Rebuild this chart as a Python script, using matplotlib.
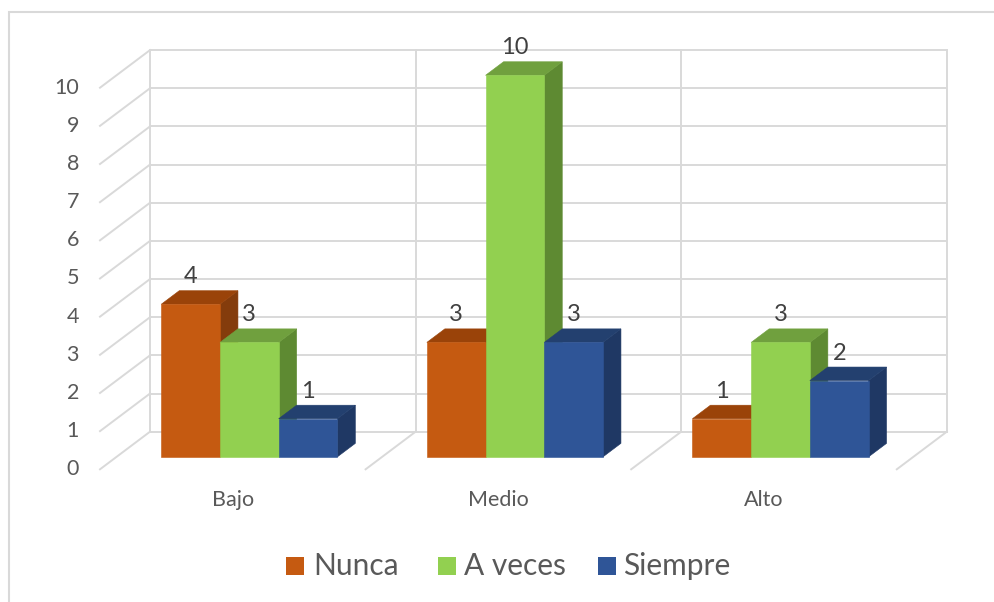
import matplotlib
matplotlib.use("Agg")
import matplotlib.pyplot as plt
from matplotlib.patches import Polygon, Rectangle

# ---- data ----
categories = ["Bajo", "Medio", "Alto"]
series_names = ["Nunca", "A veces", "Siempre"]
nunca = [4, 3, 1]
a_veces = [3, 10, 3]
siempre = [1, 3, 2]
y_ticks = list(range(0, 11))

series_values = [nunca, a_veces, siempre]
front_colors = ["#C55A11", "#92D050", "#2F5597"]
top_colors = ["#9A4309", "#70A03E", "#23406F"]
side_colors = ["#843C0C", "#5E8A32", "#1F3864"]

plt.rcParams['font.family'] = ['Lato', 'DejaVu Sans']

W, H = 994, 602
fig = plt.figure(figsize=(W / 100, H / 100), dpi=100)
ax = fig.add_axes([0, 0, 1, 1])
ax.set_axis_off()

# pixel geometry of the pseudo-3D frame
PX0, CAT_W = 100.0, 265.6      # front floor left x, px per category
Y0, UNIT = 469.3, 38.16        # front y of value 0, px per value unit
DEPTH_X, DEPTH_Y = 50.0, 37.6  # full depth offset in px

ax.set_xlim(-PX0 / CAT_W, (W - PX0) / CAT_W)
ax.set_ylim((Y0 - H) / UNIT, Y0 / UNIT)

DXc = DEPTH_X / CAT_W
DYv = DEPTH_Y / UNIT
ncat = len(categories)
vmax = max(y_ticks)
grid_c = "#D9D9D9"
glw = 1.4

# back wall horizontal gridlines
for v in y_ticks:
    ax.plot([DXc, ncat + DXc], [v + DYv, v + DYv], color=grid_c, lw=glw, zorder=1,
            solid_capstyle='butt')
    # left side wall diagonals
    ax.plot([0, DXc], [v, v + DYv], color=grid_c, lw=glw, zorder=1)
# back wall verticals
for k in range(ncat + 1):
    ax.plot([k + DXc, k + DXc], [DYv, vmax + DYv], color=grid_c, lw=glw, zorder=1)
# floor diagonals
for k in range(1, ncat + 1):
    ax.plot([k, k + DXc], [0, DYv], color=grid_c, lw=glw, zorder=1)

# bars
bw = 58.7 / CAT_W
d0, d1 = 0.33, 0.69
ddx, ddy = (d1 - d0) * DXc, (d1 - d0) * DYv
z = 3
for i in range(ncat):
    for j, vals in enumerate(series_values):
        v = vals[i]
        xl = i + 0.5 + (j - 1.5) * bw + d0 * DXc
        yb = d0 * DYv
        front = Polygon([(xl, yb), (xl + bw, yb), (xl + bw, yb + v), (xl, yb + v)],
                        closed=True, facecolor=front_colors[j], edgecolor=front_colors[j],
                        lw=0.4, zorder=z)
        top = Polygon([(xl, yb + v), (xl + bw, yb + v), (xl + bw + ddx, yb + v + ddy),
                       (xl + ddx, yb + v + ddy)], closed=True,
                      facecolor=top_colors[j], edgecolor=top_colors[j], lw=0.4, zorder=z)
        side = Polygon([(xl + bw, yb), (xl + bw + ddx, yb + ddy), (xl + bw + ddx, yb + v + ddy),
                        (xl + bw, yb + v)], closed=True,
                       facecolor=side_colors[j], edgecolor=side_colors[j], lw=0.4, zorder=z)
        ax.add_patch(side)
        ax.add_patch(top)
        ax.add_patch(front)
        z += 1
        ax.text(xl + bw / 2, v + d1 * DYv + 14 / UNIT, str(v), ha='center', va='center',
                fontsize=17, color="#404040", zorder=50)

# y tick labels
for v in y_ticks:
    ax.text(-21 / CAT_W, v, str(v), ha='right', va='center', fontsize=15.5,
            color="#595959", zorder=50)

# category labels
for i, c in enumerate(categories):
    ax.text(i + 0.5, (Y0 - 500) / UNIT, c, ha='center', va='center', fontsize=15.5,
            color="#595959", zorder=50)

# legend (manual, figure pixels)
leg_sq_x = [286, 437.5, 597.5]
leg_tx_x = [313, 463.5, 623.5]
leg_y = 566
for j, name in enumerate(series_names):
    fig.patches.append(Rectangle((leg_sq_x[j] / W, 1 - (leg_y + 9) / H), 18 / W, 18 / H,
                                 transform=fig.transFigure, facecolor=front_colors[j],
                                 edgecolor='none'))
    fig.text(leg_tx_x[j] / W, 1 - leg_y / H, name, ha='left', va='center',
             fontsize=21.5, color="#595959")

# chart border
fig.patches.append(Rectangle((9 / W, -0.05), 1.1, 1 - 12 / H + 0.05,
                             transform=fig.transFigure, facecolor='none',
                             edgecolor="#D9D9D9", lw=1.5))

fig.savefig("out.png", dpi=100)
